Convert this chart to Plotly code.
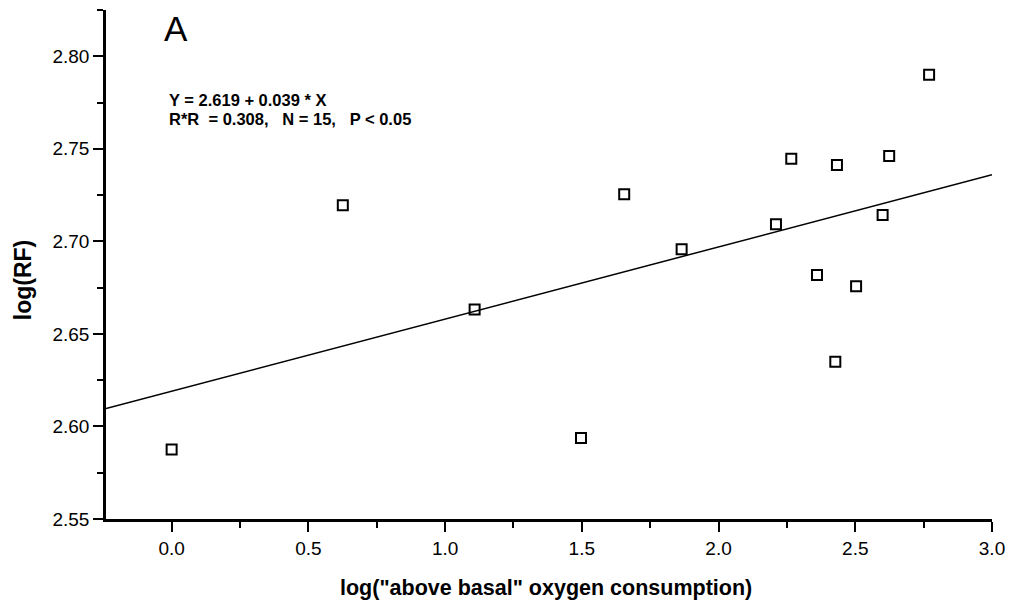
import plotly.graph_objects as go

# Data
x_vals = [0.0, 0.626, 1.108, 1.497, 1.655, 1.865, 2.210, 2.266, 2.360, 2.427, 2.433, 2.503, 2.600, 2.624, 2.770]
y_vals = [2.5876, 2.7195, 2.6632, 2.5937, 2.7254, 2.6957, 2.7092, 2.7447, 2.6818, 2.6350, 2.7412, 2.6758, 2.7142, 2.7461, 2.7900]

intercept = 2.619
slope = 0.039
line_x = [-0.24, 3.0]
line_y = [intercept + slope * v for v in line_x]

x_ticks = [0.0, 0.5, 1.0, 1.5, 2.0, 2.5, 3.0]
y_ticks = [2.55, 2.60, 2.65, 2.70, 2.75, 2.80]

FONT = "Liberation Sans, Arial, sans-serif"

fig = go.Figure()
fig.add_trace(go.Scatter(x=line_x, y=line_y, mode="lines",
                         line=dict(color="black", width=1.5), showlegend=False,
                         hoverinfo="skip"))
fig.add_trace(go.Scatter(x=x_vals, y=y_vals, mode="markers",
                         marker=dict(symbol="square-open", size=10, color="black",
                                     line=dict(width=2, color="black")),
                         showlegend=False))

axis_common = dict(showgrid=False, zeroline=False, showline=True, linecolor="black",
                   linewidth=2.5, ticks="outside", tickcolor="black", tickwidth=2,
                   ticklen=10, tickfont=dict(family=FONT, size=19, color="black"))

fig.update_xaxes(range=[-0.24, 3.0], tickvals=x_ticks, tickformat=".1f",
                 minor=dict(ticks="outside", dtick=0.25, tick0=0, ticklen=6,
                            tickwidth=2, tickcolor="black"),
                 **axis_common)
fig.update_yaxes(range=[2.55, 2.825], tickvals=y_ticks, tickformat=".2f",
                 minor=dict(ticks="outside", dtick=0.025, tick0=2.55, ticklen=6,
                            tickwidth=2, tickcolor="black"),
                 **axis_common)

annotations = [
    dict(text="A", x=(176 - 106) / 888, y=(519 - 28) / 509, xref="paper", yref="paper",
         showarrow=False, xanchor="center", yanchor="middle",
         font=dict(family=FONT, size=35, color="black")),
    dict(text="<b>Y = 2.619 + 0.039 * X</b>", x=(167 - 106) / 888, y=(519 - 100) / 509,
         xref="paper", yref="paper", showarrow=False, xanchor="left", yanchor="middle",
         font=dict(family=FONT, size=16.5, color="black")),
    dict(text="<b>R*R  = 0.308,   N = 15,   P < 0.05</b>", x=(167 - 106) / 888,
         y=(519 - 119) / 509, xref="paper", yref="paper", showarrow=False,
         xanchor="left", yanchor="middle", font=dict(family=FONT, size=16.5, color="black")),
    dict(text="<b>log(\"above basal\" oxygen consumption)</b>", x=(547 - 106) / 888,
         y=(519 - 588) / 509, xref="paper", yref="paper", showarrow=False,
         xanchor="center", yanchor="middle", font=dict(family=FONT, size=21.5, color="black")),
    dict(text="<b>log(RF)</b>", x=(23 - 106) / 888, y=(519 - 280) / 509, textangle=-90,
         xref="paper", yref="paper", showarrow=False, xanchor="center", yanchor="middle",
         font=dict(family=FONT, size=23, color="black")),
]

fig.update_layout(width=1015, height=603, margin=dict(l=106, r=21, t=10, b=84),
                  paper_bgcolor="white", plot_bgcolor="white", annotations=annotations)

fig.write_html("out.html")
